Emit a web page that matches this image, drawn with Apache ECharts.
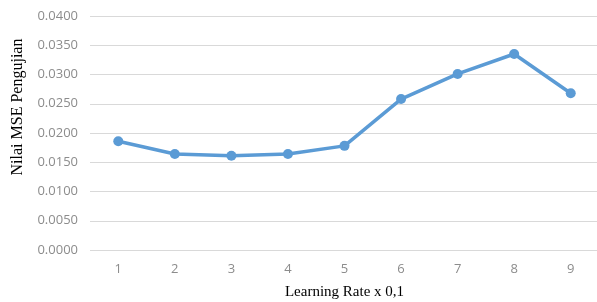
<!DOCTYPE html>
<html>
<head>
    <meta charset="utf-8">
    <title>ECharts</title>
    <script src="https://cdn.jsdelivr.net/npm/echarts@6/dist/echarts.min.js"></script>
</head>
<style>
    html, body {
        margin: 0;
        background: #fff;
    }
    #main {
        width: 597px;
        height: 302px;
    }
</style>
<body>
    <div id="main"></div>
    <script type="text/javascript">
        var categories = ['1', '2', '3', '4', '5', '6', '7', '8', '9'];
        var mseValues = [0.0186, 0.0164, 0.0161, 0.0164, 0.0178, 0.0258, 0.0301, 0.0335, 0.0268];

        var option = {
            animation: false,
            grid: {
                left: 90,
                right: -2,
                top: 16,
                bottom: 52,
                outerBoundsMode: 'none',
                containLabel: false
            },
            xAxis: {
                type: 'category',
                data: categories,
                name: 'Learning Rate x 0,1',
                nameLocation: 'middle',
                nameGap: 35,
                nameTextStyle: {
                    fontFamily: 'Liberation Serif',
                    fontSize: 15,
                    color: '#000'
                },
                axisLine: { show: false },
                axisTick: { show: false },
                axisLabel: {
                    color: '#8c8c8c',
                    fontFamily: 'Open Sans',
                    fontSize: 13,
                    margin: 13
                }
            },
            yAxis: {
                type: 'value',
                min: 0,
                max: 0.04,
                interval: 0.005,
                name: 'Nilai MSE Pengujian',
                nameLocation: 'middle',
                nameGap: 64,
                nameTextStyle: {
                    fontFamily: 'Liberation Serif',
                    fontSize: 16,
                    color: '#000',
                    padding: [0, 0, 0, 52]
                },
                axisLabel: {
                    color: '#8c8c8c',
                    fontFamily: 'Open Sans',
                    fontSize: 13,
                    margin: 12,
                    formatter: function (v) { return v.toFixed(4); }
                },
                splitLine: {
                    lineStyle: { color: '#d9d9d9', width: 1 }
                }
            },
            series: [{
                type: 'line',
                data: mseValues,
                symbol: 'circle',
                symbolSize: 10,
                lineStyle: { color: '#5b9bd5', width: 3.5 },
                itemStyle: { color: '#5b9bd5' }
            }]
        };
        var myChart = echarts.init(document.getElementById('main'));
        myChart.setOption(option);
    </script>
</body>
</html>
